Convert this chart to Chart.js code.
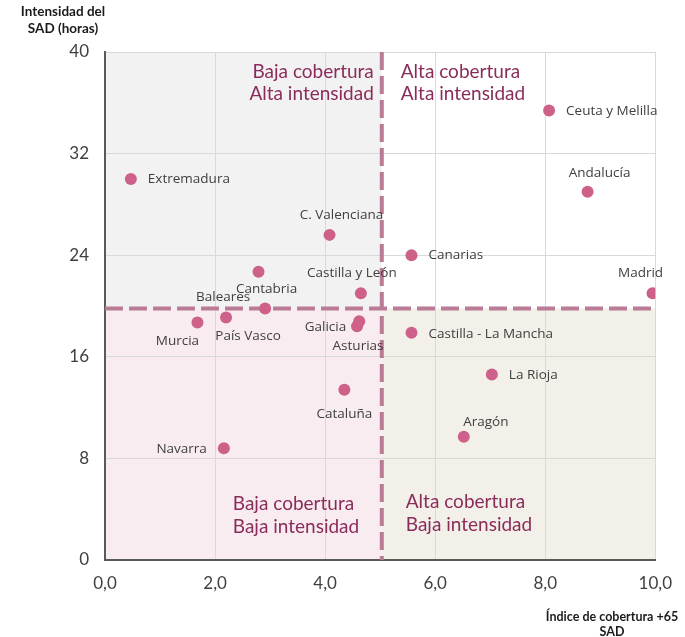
<!DOCTYPE html>
<html>
<head>
<meta charset="utf-8">
<script src="https://cdn.jsdelivr.net/npm/chart.js@4.4.1/dist/chart.umd.min.js"></script>
<style>
  html, body { margin: 0; padding: 0; background: #fff; }
</style>
</head>
<body>
<canvas id="sad-chart" width="685" height="637"></canvas>
<script>
// datos
const regiones = ['Extremadura', 'C. Valenciana', 'Castilla y León', 'Cantabria', 'Baleares', 'País Vasco',
    'Murcia', 'Galicia', 'Asturias', 'Cataluña', 'Navarra', 'Canarias', 'Ceuta y Melilla', 'Andalucía',
    'Madrid', 'Castilla - La Mancha', 'La Rioja', 'Aragón'];
const cobertura = [0.47, 4.08, 4.65, 2.79, 2.91, 2.2, 1.68, 4.62, 4.58, 4.35, 2.16, 5.57, 8.07, 8.77, 9.95, 5.57, 7.03, 6.52];
const intensidad = [30.0, 25.6, 21.0, 22.7, 19.8, 19.1, 18.7, 18.8, 18.4, 13.4, 8.8, 24.0, 35.4, 29.0, 21.0, 17.9, 14.6, 9.7];
const mediaCobertura = 5.03;
const mediaIntensidad = 19.8;
const cuadrantes = {
    tl: ['Baja cobertura', 'Alta intensidad'],
    tr: ['Alta cobertura', 'Alta intensidad'],
    bl: ['Baja cobertura', 'Baja intensidad'],
    br: ['Alta cobertura', 'Baja intensidad']
};

// colocación de las etiquetas: [alineación, dx, dy]
const etiquetas = {
    'Extremadura': ['left', 17, 0],
    'C. Valenciana': ['center', 12, -20],
    'Castilla y León': ['center', -9, -20],
    'Cantabria': ['center', 8, 17],
    'Baleares': ['center', -42, -11],
    'País Vasco': ['center', 22, 19],
    'Murcia': ['center', -20, 19],
    'Galicia': ['right', -13, 6],
    'Asturias': ['center', 1, 20],
    'Cataluña': ['center', 0, 24],
    'Navarra': ['right', -17, 1],
    'Canarias': ['left', 17, 0],
    'Ceuta y Melilla': ['left', 17, 1],
    'Andalucía': ['center', 12, -19],
    'Madrid': ['center', -12, -20],
    'Castilla - La Mancha': ['left', 17, 1],
    'La Rioja': ['left', 17, 1],
    'Aragón': ['center', 22, -15]
};

const fmt = v => v.toFixed(1).replace('.', ',');

const quadrantPlugin = {
    id: 'quadrants',
    beforeDraw(chart) {
        const { ctx, chartArea: a, scales: { x, y } } = chart;
        const mx = x.getPixelForValue(mediaCobertura);
        const my = y.getPixelForValue(mediaIntensidad);
        ctx.save();
        ctx.fillStyle = '#f2f2f2';
        ctx.fillRect(a.left, a.top, mx - a.left, my - a.top);
        ctx.fillStyle = '#ffffff';
        ctx.fillRect(mx, a.top, a.right - mx, my - a.top);
        ctx.fillStyle = '#f8ecf0';
        ctx.fillRect(a.left, my, mx - a.left, a.bottom - my);
        ctx.fillStyle = '#f3f0ea';
        ctx.fillRect(mx, my, a.right - mx, a.bottom - my);
        ctx.restore();
    },
    beforeDatasetsDraw(chart) {
        const { ctx, chartArea: a, scales: { x, y } } = chart;
        const mx = x.getPixelForValue(mediaCobertura);
        const my = y.getPixelForValue(mediaIntensidad);
        ctx.save();
        ctx.strokeStyle = '#b97b96';
        ctx.lineWidth = 4;
        ctx.setLineDash([18, 6]);
        ctx.beginPath();
        ctx.moveTo(a.left, my);
        ctx.lineTo(a.right, my);
        ctx.stroke();
        ctx.beginPath();
        ctx.moveTo(mx, a.top);
        ctx.lineTo(mx, a.bottom);
        ctx.stroke();
        ctx.setLineDash([]);

        ctx.fillStyle = '#8a2c5a';
        ctx.font = '19px Lato';
        ctx.textBaseline = 'middle';
        ctx.textAlign = 'right';
        cuadrantes.tl.forEach((t, i) => ctx.fillText(t, mx - 8, a.top + 20 + i * 22));
        ctx.textAlign = 'left';
        cuadrantes.tr.forEach((t, i) => ctx.fillText(t, mx + 19, a.top + 20 + i * 22));
        cuadrantes.bl.forEach((t, i) => ctx.fillText(t, mx - 149, a.bottom - 56 + i * 23));
        cuadrantes.br.forEach((t, i) => ctx.fillText(t, mx + 24, a.bottom - 58 + i * 23));
        ctx.restore();
    },
    afterDatasetsDraw(chart) {
        const { ctx } = chart;
        const meta = chart.getDatasetMeta(0);
        ctx.save();
        ctx.fillStyle = '#404040';
        ctx.font = '13.5px "Open Sans"';
        ctx.textBaseline = 'middle';
        meta.data.forEach((pt, i) => {
            const [align, dx, dy] = etiquetas[regiones[i]];
            ctx.textAlign = align;
            ctx.fillText(regiones[i], pt.x + dx, pt.y + dy);
        });

        // títulos de los ejes
        ctx.fillStyle = '#1a1a1a';
        ctx.font = 'bold 13.5px Lato';
        ctx.textAlign = 'center';
        ctx.fillText('Intensidad del', 63, 12);
        ctx.fillText('SAD (horas)', 63, 29);
        ctx.font = 'bold 12.5px Lato';
        ctx.fillText('Índice de cobertura +65', 612, 617);
        ctx.fillText('SAD', 612, 632);
        ctx.restore();
    }
};

const ctx = document.getElementById('sad-chart').getContext('2d');
new Chart(ctx, {
    type: 'scatter',
    data: {
        datasets: [{
            data: cobertura.map((c, i) => ({ x: c, y: intensidad[i] })),
            backgroundColor: '#cd6189',
            borderWidth: 0,
            pointRadius: 6,
            pointHoverRadius: 6
        }]
    },
    options: {
        responsive: false,
        animation: false,
        layout: { padding: { top: 52, right: 26, left: 0, bottom: 0 } },
        plugins: { legend: { display: false }, tooltip: { enabled: false } },
        scales: {
            x: {
                min: 0, max: 10,
                ticks: { stepSize: 2, padding: 13, color: '#404040', font: { family: 'Lato', size: 17 }, callback: v => fmt(v) },
                grid: { color: '#d9d9d9', drawTicks: false },
                border: { color: '#595959', width: 2 },
                afterFit: s => { s.height = 77; }
            },
            y: {
                min: 0, max: 40,
                ticks: { stepSize: 8, padding: 16, color: '#404040', font: { family: 'Lato', size: 17 } },
                grid: { color: '#d9d9d9', drawTicks: false },
                border: { color: '#595959', width: 2 },
                afterFit: s => { s.width = 105; }
            }
        }
    },
    plugins: [quadrantPlugin]
});
</script>
</body>
</html>
